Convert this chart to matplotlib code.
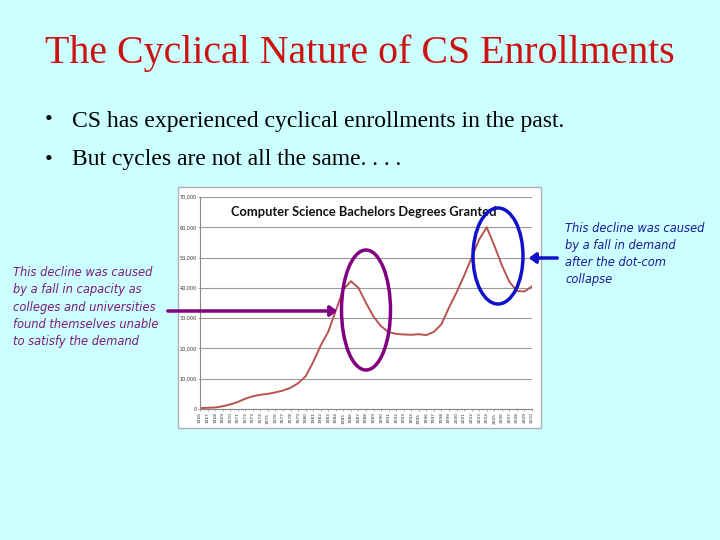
import matplotlib
matplotlib.use("Agg")
import matplotlib.pyplot as plt
from matplotlib.patches import Rectangle, Ellipse, FancyArrowPatch

# bachelors degrees in CS, one value per year
years = list(range(1966, 2011))
degrees = [300, 400, 500, 900, 1500, 2300, 3400, 4200, 4700, 5000,
           5500, 6100, 7000, 8500, 10800, 15500, 21000, 25500, 32500, 39500,
           42200, 40000, 35000, 30500, 27300, 25400, 24800, 24600, 24500, 24700,
           24400, 25500, 28000, 33500, 38500, 44000, 50000, 56000, 60000, 54000,
           47500, 42000, 39000, 38800, 40500]
yticks = [0, 10000, 20000, 30000, 40000, 50000, 60000, 70000]

W, H = 720, 540
fig = plt.figure(figsize=(7.2, 5.4), dpi=100)
fig.patch.set_facecolor("#ccffff")

def fx(px):
    return px / W

def fy(py):
    return 1 - py / H

# slide title and bullets
fig.text(0.5, fy(53), "The Cyclical Nature of CS Enrollments", ha="center", va="center",
         family="Liberation Serif", fontsize=28.7, color="#cc1111")
bullets = ["CS has experienced cyclical enrollments in the past.",
           "But cycles are not all the same. . . ."]
for i, b in enumerate(bullets):
    y = fy(121 + 39 * i)
    fig.text(fx(45), y, "\u2022", ha="left", va="center", family="Liberation Serif", fontsize=16)
    fig.text(fx(72), y, b, ha="left", va="center", family="Liberation Serif", fontsize=17)

# white box of the pasted chart
fig.patches.append(Rectangle((fx(178), fy(428)), fx(541) - fx(178), fy(187) - fy(428),
                             transform=fig.transFigure, facecolor="white",
                             edgecolor="#b0b0b0", lw=1, zorder=-1))

ax = fig.add_axes([fx(200), fy(409), fx(532) - fx(200), fy(197) - fy(409)])
ax.set_facecolor("white")
ax.plot(range(len(years)), degrees, color="#b85450", lw=1.4)
ax.set_xlim(0, len(years) - 1)
ax.set_ylim(0, 70000)
ax.set_yticks(yticks)
ax.set_yticklabels([f"{v:,}" for v in yticks], fontsize=3.5, color="#333333")
ax.set_xticks(range(len(years)))
ax.set_xticklabels([str(y) for y in years], rotation=90, fontsize=3.2, color="#333333")
ax.grid(axis="y", color="#999999", lw=0.8)
ax.set_axisbelow(True)
for s in ["top", "right"]:
    ax.spines[s].set_visible(False)
ax.spines["left"].set_color("#888888")
ax.spines["bottom"].set_color("#888888")
ax.tick_params(length=1.5, width=0.5, pad=1, colors="#888888", labelcolor="#333333")
fig.text(fx(364), fy(212), "Computer Science Bachelors Degrees Granted", ha="center", va="center",
         family="Lato", weight="bold", fontsize=9.3, color="#111111")

# highlight ellipses and arrows
fig.patches.append(Ellipse((fx(366), fy(310)), fx(49), 120 / H, transform=fig.transFigure,
                           fill=False, edgecolor="#800080", lw=2.5, zorder=5))
fig.patches.append(Ellipse((fx(498), fy(256)), fx(50), 96 / H, transform=fig.transFigure,
                           fill=False, edgecolor="#1111cc", lw=2.5, zorder=5))
fig.patches.append(FancyArrowPatch((fx(165), fy(311)), (fx(340), fy(311)), transform=fig.transFigure,
                                   arrowstyle="-|>,head_length=4,head_width=3", color="#800080",
                                   lw=2.5, zorder=5))
fig.patches.append(FancyArrowPatch((fx(560), fy(258)), (fx(526), fy(258)), transform=fig.transFigure,
                                   arrowstyle="-|>,head_length=4,head_width=3", color="#1111cc",
                                   lw=2.5, zorder=5))

left_note = ["This decline was caused", "by a fall in capacity as", "colleges and universities",
             "found themselves unable", "to satisfy the demand"]
for i, line in enumerate(left_note):
    fig.text(fx(13), fy(273 + 17 * i), line, ha="left", va="center", family="DejaVu Sans",
             style="italic", fontsize=8.3, color="#7a1a7a")
right_note = ["This decline was caused", "by a fall in demand", "after the dot-com", "collapse"]
for i, line in enumerate(right_note):
    fig.text(fx(565), fy(229 + 16.7 * i), line, ha="left", va="center", family="DejaVu Sans",
             style="italic", fontsize=8.3, color="#1a1a9a")

fig.savefig("out.png", dpi=100, facecolor=fig.get_facecolor())
